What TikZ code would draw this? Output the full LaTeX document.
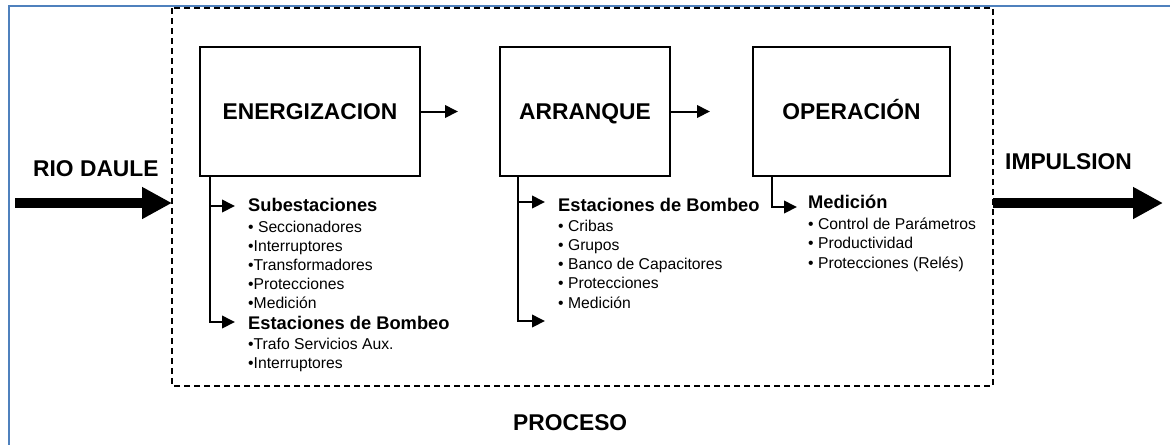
\documentclass[tikz,border=0pt]{standalone}
\usepackage{fontspec}
\setmainfont{Liberation Sans}
\usetikzlibrary{arrows.meta}
\definecolor{frameblue}{RGB}{79,129,189}
\tikzset{
  mainbox/.style={draw, line width=1.8pt, minimum width=220pt, minimum height=129pt, inner sep=0pt,
    text height=16.4pt, text depth=0pt,
    font=\fontsize{22.8}{27}\selectfont\bfseries},
  bigtitle/.style={anchor=base west, inner sep=0pt, font=\fontsize{22.8}{27}\selectfont\bfseries},
  head/.style={anchor=base west, inner sep=0pt, font=\fontsize{18.3}{22}\selectfont\bfseries},
  item/.style={anchor=base west, inner sep=0pt, font=\fontsize{15.7}{19}\selectfont},
  smallarrow/.style={line width=2pt, -{Triangle[length=13pt 0,width=12.5pt 0]}},
  bigarrow/.style={line width=10pt, -{Triangle[length=30pt 0,width=30pt 0]}},
  procbox/.style={draw, line width=1.5pt, dash pattern=on 6pt off 4pt}
}
\begin{document}
\begin{tikzpicture}[x=1pt,y=-1pt]
\useasboundingbox (0,0) rectangle (1170,445);
% outer frame (top and left visible)
\draw[frameblue, line width=2pt] (1170,6) -- (9,6) -- (9,445);
% process dashed box
\draw[procbox] (172,8) rectangle (993,386);
% main boxes
\node[mainbox] (E) at (310,111.5) {ENERGIZACION};
\node[mainbox, minimum width=170pt] (A) at (585,111.5) {ARRANQUE};
\node[mainbox, minimum width=197pt] (O) at (851.5,111.5) {OPERACIÓN};
% arrows between boxes
\coordinate (e2a) at (458,111.5);
\coordinate (a2o) at (710,111.5);
\draw[smallarrow] (E.east) -- (e2a);
\draw[smallarrow] (A.east) -- (a2o);
% outer labels and big arrows
\node[bigtitle] (rio) at (33,176.7) {RIO DAULE};
\node[bigtitle] (imp) at (1005,169.3) {IMPULSION};
\node[bigtitle] (proc) at (513,430) {PROCESO};
\coordinate (rioS) at (15,203);
\coordinate (rioE) at (172,203);
\coordinate (impS) at (993,203);
\coordinate (impE) at (1163,203);
\draw[bigarrow] (rioS) -- (rioE);
\draw[bigarrow] (impS) -- (impE);
% ENERGIZACION branches
\coordinate (eb1) at (235,206);
\coordinate (eb2) at (235,322);
\draw[smallarrow] ([xshift=11pt]E.south west) |- (eb1);
\draw[smallarrow] ([xshift=11pt]E.south west) |- (eb2);
\node[head] (e1) at (248,211.7) {Subestaciones};
\node[item] (e2) at (248,232) {• Seccionadores};
\node[item] (e3) at (248,251.3) {•Interruptores};
\node[item] (e4) at (248,270.3) {•Transformadores};
\node[item] (e5) at (248,289.3) {•Protecciones};
\node[item] (e6) at (248,308.6) {•Medición};
\node[head] (e7) at (248,329) {Estaciones de Bombeo};
\node[item] (e8) at (248,349.7) {•Trafo Servicios Aux.};
\node[item] (e9) at (248,368.3) {•Interruptores};
% ARRANQUE branches
\coordinate (ab1) at (545,202);
\coordinate (ab2) at (545,321);
\draw[smallarrow] ([xshift=19pt]A.south west) |- (ab1);
\draw[smallarrow] ([xshift=19pt]A.south west) |- (ab2);
\node[head] (a1) at (558,211) {Estaciones de Bombeo};
\node[item] (a2) at (558,231) {• Cribas};
\node[item] (a3) at (558,250) {• Grupos};
\node[item] (a4) at (558,269.3) {• Banco de Capacitores};
\node[item] (a5) at (558,288.6) {• Protecciones};
\node[item] (a6) at (558,308) {• Medición};
% OPERACION branch
\coordinate (ob1) at (797,207);
\draw[smallarrow] ([xshift=20pt]O.south west) |- (ob1);
\node[head] (o1) at (808,208.3) {Medición};
\node[item] (o2) at (808,229.3) {• Control de Parámetros};
\node[item] (o3) at (808,248.3) {• Productividad};
\node[item] (o4) at (808,268.3) {• Protecciones (Relés)};
\end{tikzpicture}
\end{document}
